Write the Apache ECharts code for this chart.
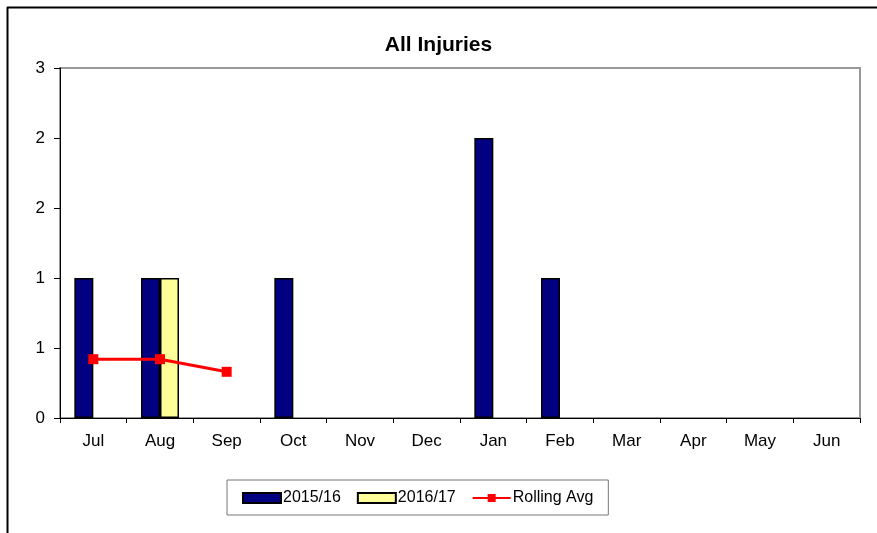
<!DOCTYPE html>
<html>
<head>
<meta charset="utf-8">
<script src="https://cdn.jsdelivr.net/npm/echarts@6/dist/echarts.min.js"></script>
<style>
  html, body { margin: 0; padding: 0; background: #fff; }
  #chart { width: 877px; height: 533px; }
</style>
</head>
<body>
<div id="chart"></div>
<script>
// Monthly injury counts, financial year Jul–Jun
const months = ['Jul', 'Aug', 'Sep', 'Oct', 'Nov', 'Dec', 'Jan', 'Feb', 'Mar', 'Apr', 'May', 'Jun'];
const season2015 = [1, 1, 0, 1, 0, 0, 2, 1, 0, 0, 0, 0];
const season2016 = [0, 1, 0, null, null, null, null, null, null, null, null, null];
const rollingAvg = [0.42, 0.42, 0.33, null, null, null, null, null, null, null, null, null];

// zero months draw no bar (avoids a stray outline on the baseline)
const hideZero = arr => arr.map(v => (v === 0 ? null : v));

const FONT = 'Liberation Sans, Arial, sans-serif';
const chart = echarts.init(document.getElementById('chart'), null, { renderer: 'canvas' });

chart.setOption({
  animation: false,
  backgroundColor: '#ffffff',
  title: {
    text: 'All Injuries',
    left: 'center',
    top: 30,
    textStyle: { fontFamily: FONT, fontSize: 21, fontWeight: 'bold', color: '#000' }
  },
  graphic: [
    { type: 'line', shape: { x1: 7, y1: 7.5, x2: 877, y2: 7.5 }, style: { stroke: '#000', lineWidth: 2 } },
    { type: 'line', shape: { x1: 7.5, y1: 7, x2: 7.5, y2: 533 }, style: { stroke: '#000', lineWidth: 2 } }
  ],
  grid: {
    left: 60, right: 17, top: 68, bottom: 115,
    show: true, borderColor: '#999', borderWidth: 2, backgroundColor: 'transparent'
  },
  legend: {
    top: 480,
    left: 227,
    padding: [10, 15, 9, 15],
    itemGap: 16,
    itemWidth: 38,
    itemHeight: 10,
    borderColor: '#777',
    borderWidth: 1,
    borderRadius: 0,
    textStyle: { fontFamily: FONT, fontSize: 16, color: '#000', padding: [0, 0, 0, -3] },
    data: [
      { name: '2015/16', icon: 'rect' },
      { name: '2016/17', icon: 'rect' },
      { name: 'Rolling Avg' }
    ]
  },
  xAxis: {
    type: 'category',
    data: months,
    boundaryGap: true,
    axisLine: { lineStyle: { color: '#000', width: 1 } },
    axisTick: { show: true, alignWithLabel: false, length: 5, lineStyle: { color: '#000' } },
    axisLabel: { fontFamily: FONT, fontSize: 17, color: '#000', margin: 15 }
  },
  yAxis: {
    type: 'value',
    min: 0,
    max: 2.5,
    interval: 0.5,
    axisLine: { show: true, lineStyle: { color: '#000', width: 1 } },
    axisTick: { show: true, length: 6, lineStyle: { color: '#000' } },
    splitLine: { show: false },
    axisLabel: {
      fontFamily: FONT, fontSize: 17, color: '#000', margin: 15,
      formatter: v => String(Math.round(v))
    }
  },
  series: [
    {
      name: '2015/16',
      type: 'bar',
      data: hideZero(season2015),
      barWidth: 19,
      barGap: '0%',
      itemStyle: { color: '#000080', borderColor: '#000', borderWidth: 1.5 }
    },
    {
      name: '2016/17',
      type: 'bar',
      data: hideZero(season2016),
      barWidth: 19,
      itemStyle: { color: '#ffff99', borderColor: '#000', borderWidth: 1.5 }
    },
    {
      name: 'Rolling Avg',
      type: 'line',
      data: rollingAvg,
      symbol: 'rect',
      symbolSize: 10,
      lineStyle: { color: '#ff0000', width: 3 },
      itemStyle: { color: '#ff0000' },
      z: 5
    }
  ]
});
</script>
</body>
</html>
